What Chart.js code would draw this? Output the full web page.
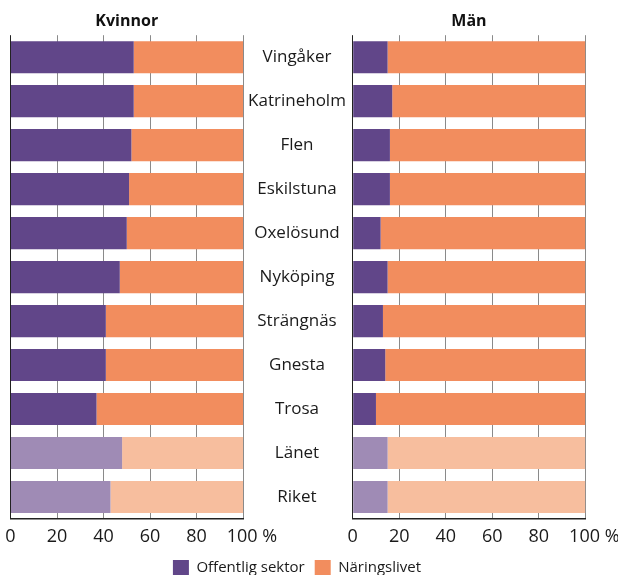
<!DOCTYPE html>
<html>
<head>
<meta charset="utf-8">
<script src="https://cdn.jsdelivr.net/npm/chart.js@4.4.0/dist/chart.umd.min.js"></script>
<style>
html, body { margin: 0; padding: 0; background: #fff; }
#wrap { position: relative; width: 618px; height: 575px; overflow: hidden; }
#wrap canvas { position: absolute; top: 0; }
#left { left: 0; }
#right { left: 300px; }
</style>
</head>
<body>
<div id="wrap">
  <canvas id="left" width="618" height="575"></canvas>
  <canvas id="right" width="318" height="575"></canvas>
</div>
<script>
var kommuner = ['Vingåker', 'Katrineholm', 'Flen', 'Eskilstuna', 'Oxelösund', 'Nyköping',
  'Strängnäs', 'Gnesta', 'Trosa', 'Länet', 'Riket'];
var jamforelser = ['Länet', 'Riket'];

var kvinnorOffentlig  = [53, 53, 52, 51, 50, 47, 41, 41, 37, 48, 43];
var kvinnorNaringsliv = [47, 47, 48, 49, 50, 53, 59, 59, 63, 52, 57];
var manOffentlig      = [15, 17, 16, 16, 12, 15, 13, 14, 10, 15, 15];
var manNaringsliv     = [85, 83, 84, 84, 88, 85, 87, 86, 90, 85, 85];

var serieNamn = ['Offentlig sektor', 'Näringslivet'];
var xTickLabels = ['0', '20', '40', '60', '80', '\u2002\u2002100 %'];

var FONT = "'Open Sans', sans-serif";
var TEXT = '#1a1a1a';
var morkFarg = ['#614689', '#f28d5e'];
var ljusFarg = ['#9f8bb5', '#f7be9e'];

Chart.defaults.font.family = FONT;
Chart.defaults.color = TEXT;
Chart.defaults.animation = false;

// dark colour for the kommuner, light for Länet / Riket
function barColours(serie) {
  return kommuner.map(function(k) {
    return jamforelser.indexOf(k) >= 0 ? ljusFarg[serie] : morkFarg[serie];
  });
}

function datasets(offentlig, naringsliv) {
  return [offentlig, naringsliv].map(function(values, i) {
    return {
      label: serieNamn[i],
      data: values,
      backgroundColor: barColours(i),
      borderWidth: 0,
      categoryPercentage: 1,
      barPercentage: 0.73
    };
  });
}

var xAxisHeight = 31;
function xScale() {
  return {
    stacked: true,
    min: 0,
    max: 100,
    ticks: {
      stepSize: 20,
      autoSkip: false,
      padding: 7,
      color: TEXT,
      font: { size: 18 },
      maxRotation: 0,
      callback: function(v) { return xTickLabels[Math.round(v / 20)]; }
    },
    grid: {
      drawTicks: false,
      lineWidth: 1,
      color: function(c) { return c.tick && c.tick.value === 0 ? '#222' : '#8a8a8a'; }
    },
    border: { display: true, color: '#222', width: 1.5 },
    afterFit: function(scale) {
      scale.height = xAxisHeight;
      // the "100 %" label may hang outside, don't shrink the plot for it
      scale.paddingLeft = 0;
      scale.paddingRight = 0;
    }
  };
}

function titleOpts(text) {
  return {
    display: true,
    text: text,
    fullSize: false,
    color: '#111',
    font: { size: 16, weight: 'bold' },
    padding: { top: 12, bottom: 4 }
  };
}

// centre the kommun names in the gap between the two charts
var gapCenter = 297, leftAreaRight = 243, yFontSize = 17;
function namePadding() {
  var ctx = document.createElement('canvas').getContext('2d');
  ctx.font = yFontSize + 'px ' + FONT;
  var widest = 0;
  kommuner.forEach(function(k) { widest = Math.max(widest, ctx.measureText(k).width); });
  return gapCenter - leftAreaRight - widest / 2;
}

var legendPadBottom = -11;
var leftPadRight = 34.5;
var leftChart = new Chart(document.getElementById('left'), {
  type: 'bar',
  data: { labels: kommuner, datasets: datasets(kvinnorOffentlig, kvinnorNaringsliv) },
  options: {
    indexAxis: 'y',
    responsive: false,
    layout: {
      autoPadding: false,
      padding: { left: 10.5, right: leftPadRight, top: 0, bottom: legendPadBottom }
    },
    scales: {
      x: xScale(),
      y: {
        stacked: true,
        position: 'right',
        grid: { display: false, drawTicks: false },
        border: { display: false },
        ticks: {
          crossAlign: 'center',
          padding: namePadding(),
          color: TEXT,
          font: { size: yFontSize }
        },
        afterFit: function(scale) { scale.width = 618 - leftPadRight - leftAreaRight; }
      }
    },
    plugins: {
      title: titleOpts('Kvinnor'),
      tooltip: { enabled: false },
      legend: {
        position: 'bottom',
        labels: {
          boxWidth: 16,
          boxHeight: 16,
          padding: 10,
          color: TEXT,
          font: { size: 15 },
          generateLabels: function(chart) {
            return chart.data.datasets.map(function(ds, i) {
              return {
                text: ds.label,
                fillStyle: morkFarg[i],
                strokeStyle: morkFarg[i],
                lineWidth: 0,
                datasetIndex: i,
                fontColor: TEXT
              };
            });
          }
        }
      }
    }
  }
});

new Chart(document.getElementById('right'), {
  type: 'bar',
  data: { labels: kommuner, datasets: datasets(manOffentlig, manNaringsliv) },
  options: {
    indexAxis: 'y',
    responsive: false,
    layout: {
      autoPadding: false,
      padding: { left: 52.7, right: 32.7, top: 0,
        bottom: leftChart.legend.height + legendPadBottom }
    },
    scales: {
      x: xScale(),
      y: { stacked: true, display: false }
    },
    plugins: {
      title: titleOpts('Män'),
      tooltip: { enabled: false },
      legend: { display: false }
    }
  }
});
</script>
</body>
</html>
